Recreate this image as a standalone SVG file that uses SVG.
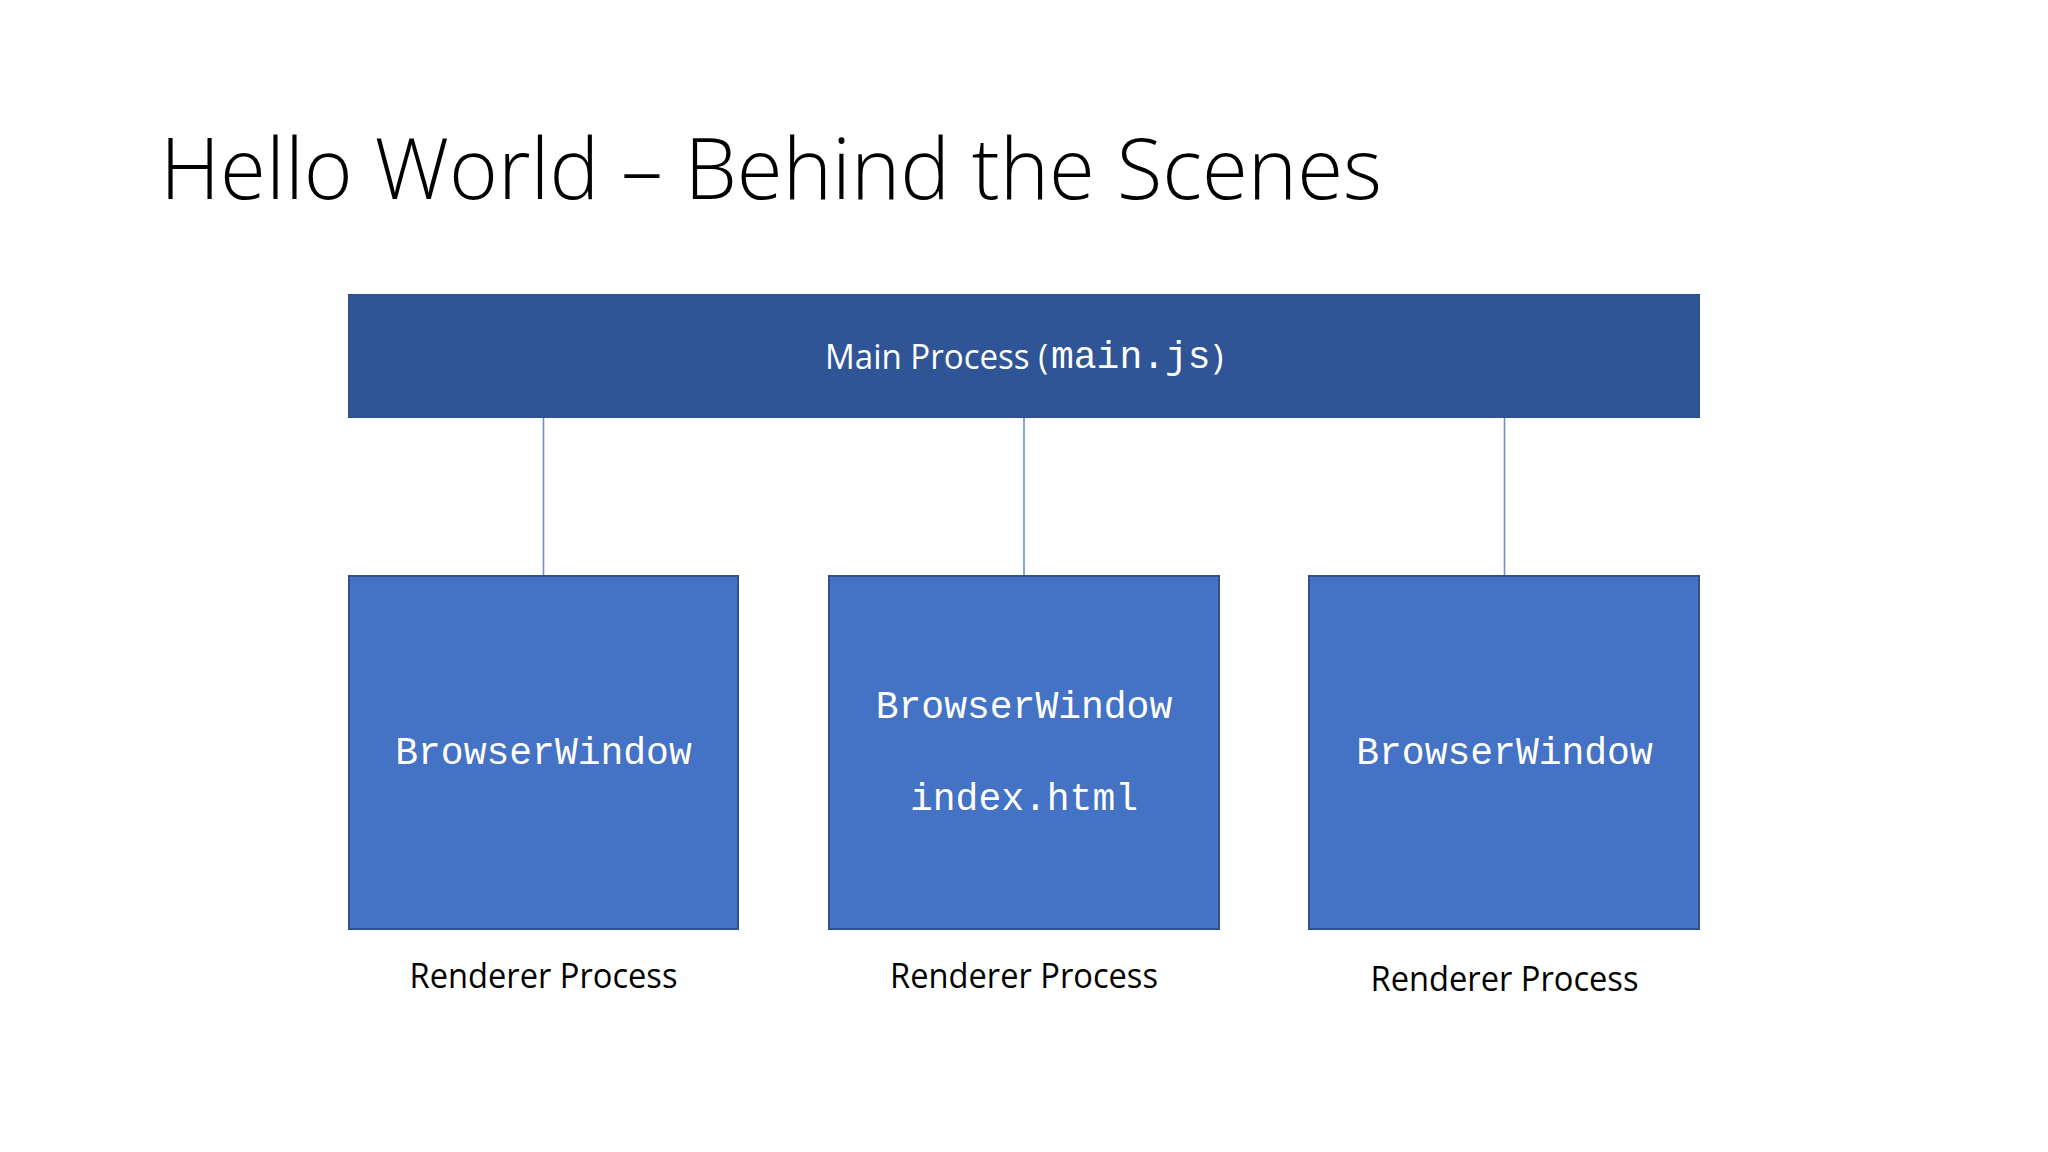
<svg xmlns="http://www.w3.org/2000/svg" width="2048" height="1152" viewBox="0 0 2048 1152">
<style>
.title{font-family:"Open Sans","Liberation Sans",sans-serif;font-weight:300;font-size:84px;fill:#000}
.sans{font-family:"Open Sans","Liberation Sans",sans-serif;font-size:35px}
.mono{font-family:"Liberation Mono","Courier New",monospace;font-size:38px;fill:#fff}
.bar{fill:#2F5597;stroke:#2F528F;stroke-width:2}
.box{fill:#4472C4;stroke:#2F528F;stroke-width:2}
.conn{stroke:#6F8FC9;stroke-width:1.6;fill:none}
.lbl{fill:#000}
.wt{fill:#fff}
</style>
<rect width="2048" height="1152" fill="#fff"/>
<text class="title" x="160" y="199" textLength="1222" lengthAdjust="spacingAndGlyphs">Hello World – Behind the Scenes</text>
<g id="connectors">
<line class="conn" x1="543.5" y1="417" x2="543.5" y2="576"/>
<line class="conn" x1="1024" y1="417" x2="1024" y2="576"/>
<line class="conn" x1="1504.5" y1="417" x2="1504.5" y2="576"/>
</g>
<g id="main-process">
<rect class="bar" x="349" y="295" width="1350" height="122"/>
<text class="sans wt" x="825" y="369" textLength="223" lengthAdjust="spacingAndGlyphs">Main Process (</text>
<text class="mono" x="1051" y="368">main.js</text>
<text class="sans wt" x="1213" y="369">)</text>
</g>
<g id="renderer-1">
<rect class="box" x="349" y="576" width="389" height="353"/>
<text class="mono" x="543.5" y="764" text-anchor="middle">BrowserWindow</text>
<text class="sans lbl" x="543.5" y="988" text-anchor="middle" textLength="268" lengthAdjust="spacingAndGlyphs">Renderer Process</text>
</g>
<g id="renderer-2">
<rect class="box" x="829" y="576" width="390" height="353"/>
<text class="mono" x="1024" y="718" text-anchor="middle">BrowserWindow</text>
<text class="mono" x="1024" y="810" text-anchor="middle">index.html</text>
<text class="sans lbl" x="1024" y="988" text-anchor="middle" textLength="268" lengthAdjust="spacingAndGlyphs">Renderer Process</text>
</g>
<g id="renderer-3">
<rect class="box" x="1309" y="576" width="390" height="353"/>
<text class="mono" x="1504.5" y="764" text-anchor="middle">BrowserWindow</text>
<text class="sans lbl" x="1504.5" y="991" text-anchor="middle" textLength="268" lengthAdjust="spacingAndGlyphs">Renderer Process</text>
</g>
</svg>
